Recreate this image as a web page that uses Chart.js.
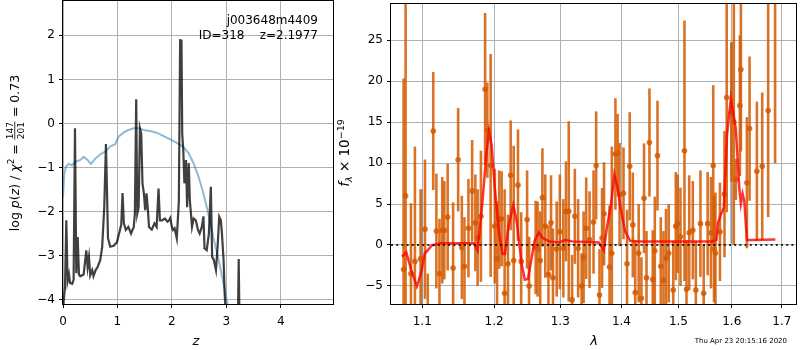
<!DOCTYPE html>
<html>
<head>
<meta charset="utf-8">
<script src="https://cdn.jsdelivr.net/npm/chart.js@4.4.0/dist/chart.umd.min.js"></script>
<style>
  body { margin: 0; background: #fff; }
  #wrap { position: relative; width: 800px; height: 350px; }
  canvas { position: absolute; top: 0; }
</style>
</head>
<body>
<div id="wrap">
  <canvas id="pz" style="left:0px" width="340" height="350"></canvas>
  <canvas id="spec" style="left:330px" width="470" height="350"></canvas>
</div>
<script>
// p(z) panel
const pzZ = [0, 0.011, 0.037, 0.061, 0.085, 0.11, 0.13, 0.17, 0.195, 0.22, 0.244, 0.27, 0.293, 0.318, 0.379,
  0.428, 0.452, 0.477, 0.5, 0.537, 0.56, 0.6, 0.636, 0.685, 0.72, 0.758, 0.789, 0.807, 0.826, 0.868, 0.93,
  0.99, 1.02, 1.07, 1.094, 1.118, 1.155, 1.2, 1.25, 1.3, 1.32, 1.345, 1.364, 1.39, 1.413, 1.437, 1.46, 1.486,
  1.51, 1.535, 1.56, 1.58, 1.63, 1.68, 1.72, 1.755, 1.78, 1.82, 1.87, 1.92, 1.95, 1.97, 2.0, 2.02, 2.05, 2.09,
  2.128, 2.152, 2.177, 2.19, 2.21, 2.23, 2.26, 2.28, 2.31, 2.33, 2.37, 2.4, 2.44, 2.48, 2.51, 2.55, 2.58, 2.6,
  2.64, 2.68, 2.716, 2.74, 2.77, 2.81, 2.84, 2.87, 2.9, 2.92, 2.95, 2.97, 3.0, 3.1, 3.21, 3.228, 3.245, 3.3];
const pzLog = [-4.6, -4.05, -3.71, -2.2, -3.58, -3.43, -3.62, -3.64, -3.55, -0.11, -3.4, -2.58, -3.43, -3.47, -3.43,
  -2.88, -3.26, -3.03, -3.45, -3.33, -3.47, -3.33, -3.26, -3.1, -2.8, -1.9, -0.47, -1.44, -2.6, -2.8, -2.78,
  -2.7, -2.55, -2.3, -1.58, -2.27, -2.42, -2.35, -2.5, -2.35, -2.05, 0.55, -2.05, -1.9, -0.11, -0.23, -1.36, -1.59,
  -1.97, -1.59, -1.97, -2.35, -2.41, -2.27, -2.35, -1.48, -2.2, -2.2, -2.16, -2.23, -2.2, -2.15, -2.35, -2.42, -2.38, -2.61,
  -1.78, 1.89, 1.88, -0.23, -0.61, -1.36, -0.83, -1.9, -0.9, -1.74, -2.35, -2.16, -2.2, -2.42, -2.5, -2.35, -2.11, -2.84,
  -2.88, -2.5, -1.44, -3.03, -3.1, -3.33, -2.8, -2.12, -2.2, -2.5, -3.1, -3.86, -4.6, -6, -4.8, -3.08, -4.8, -6];
const priorZ = [0, 0.024, 0.055, 0.104, 0.165, 0.226, 0.318, 0.38, 0.44, 0.514, 0.593, 0.685, 0.777, 0.87, 0.96,
  1.02, 1.11, 1.2, 1.3, 1.39, 1.48, 1.6, 1.72, 1.85, 1.97, 2.09, 2.21, 2.31, 2.4, 2.49, 2.58, 2.67, 2.76, 2.86,
  2.95, 3.02, 3.07];
const priorLog = [-1.67, -1.14, -0.98, -0.92, -0.95, -0.87, -0.83, -0.76, -0.82, -0.92, -0.8, -0.7, -0.64, -0.52, -0.47,
  -0.3, -0.21, -0.15, -0.11, -0.11, -0.15, -0.17, -0.21, -0.29, -0.36, -0.44, -0.53, -0.68, -0.91, -1.21, -1.59, -2.05, -2.58, -3.1,
  -3.64, -4.09, -4.4];
const zTicks = [0, 1, 2, 3, 4];
const logpTicks = [-4, -3, -2, -1, 0, 1, 2];

// spectrum panel
const specWave = [1.0755, 1.0781, 1.0851, 1.0903, 1.0978, 1.1037, 1.1074, 1.1148, 1.119, 1.1232, 1.127, 1.1298,
  1.1344, 1.1419, 1.1489, 1.154, 1.1577, 1.1633, 1.1685, 1.1731, 1.1763, 1.181, 1.187, 1.1902, 1.195, 1.201,
  1.2043, 1.2074, 1.211, 1.2154, 1.2203, 1.2243, 1.2288, 1.2352, 1.24, 1.2489, 1.2519, 1.2619, 1.2649, 1.2689,
  1.2723, 1.2767, 1.2816, 1.2856, 1.2886, 1.2945, 1.2994, 1.3049, 1.3091, 1.3135, 1.3188, 1.3232, 1.3285, 1.3341,
  1.3373, 1.3415, 1.347, 1.3535, 1.3578, 1.3633, 1.3675, 1.3708, 1.38, 1.3838, 1.3898, 1.3935, 1.3968, 1.4035,
  1.4095, 1.4141, 1.4194, 1.4236, 1.4295, 1.4342, 1.4388, 1.4431, 1.4483, 1.4541, 1.4577, 1.4624, 1.4683, 1.4731,
  1.4776, 1.4824, 1.4906, 1.4952, 1.4988, 1.5037, 1.511, 1.5147, 1.5197, 1.5263, 1.5319, 1.5405, 1.5466, 1.554,
  1.5602, 1.5645, 1.566, 1.5687, 1.5773, 1.586, 1.5902, 1.5994, 1.604, 1.6079, 1.6158, 1.6178, 1.6296, 1.6349,
  1.6494, 1.6601, 1.6721, 1.6862];
const specFlux = [-3, 6.0, -3.5, -2, -1.7, 1.93, -8, 13.9, 1.7, -3.5, 1.8, 1.8,
  3.4, -2.8, 10.4, -0.3, -2.6, 2.05, 6.6, 2.7, 0.9, 3.5, 19.0, 14, 9.7, 2.3,
  -1.7, 3.1, 3.2, -5.9, -2.3, 8.5, -1.9, 7.3, -2.0, 3.1, -5, -0.3, -0.5, -1.9,
  5.8, 2.3, -3.6, 2.7, -4, -0.5, 1.6, -0.4, 4.1, 4.1, -6.7, 3.5, -0.4, -5,
  -1.5, 2.05, 0.65, 2.8, 9.7, -6.1, 0.85, 3.8, -2.7, -1, 11.1, 11.2, 6.15, 6.3,
  -2.3, 9.6, 2.45, -5.8, -1, -6.5, 5.7, -4.0, 12.5, -4.2, -0.7, 10.9, -2.6, -4.3,
  -1.6, -1.0, -5.5, 2.3, 2.6, 1.0, 11.5, -5.4, 1.5, 1.8, -5.5, 2.6, -5.9, 2.6,
  1.5, 9.7, -0.5, -1, 1.6, 6.2, 18.0, 16.2, 15, 8.0, 17.0, 21.4, 7.6, 14.2,
  9.0, 9.6, 16.4, 30];
const specErr = [23.3, 24, 8.6, 14, 8.5, 8.5, 4.5, 7.2, 7, 6.7, 6.5, 6,
  6.5, 8, 6.3, 6.3, 6, 6, 6.2, 5.9, 5.9, 8, 9.3, 5.8, 13.6, 7,
  7, 6, 5.8, 12.7, 6, 6.7, 14, 6.8, 6, 6, 6, 5.7, 5.8, 6,
  6, 6.3, 6, 5.8, 6, 5.8, 7, 6, 6.1, 11, 5.5, 5.8, 6, 4,
  5.6, 6.2, 5.9, 6.3, 6.6, 5.6, 6.1, 6.3, 7.5, 13, 6.8, 4.8, 6.3, 5.6,
  6.6, 6.6, 6.4, 6.3, 6, 5, 6.7, 5.7, 6.6, 6, 6.6, 6.7, 6, 6,
  6, 6, 6, 6.6, 6, 6, 15.9, 6, 7, 6, 6, 6.5, 6, 6.3,
  6.8, 9.8, 6.5, 7.4, 6, 7.7, 14, 8.5, 15, 2.5, 8.6, 10, 8, 8.8,
  8.5, 9, 13, 20];
const greyWave = [1.0995, 1.5994];
const greyFlux = [-2, 12.5];
const greyErr = [8.8, 12.3];
const modelWave = [1.0733, 1.079, 1.0856, 1.0929, 1.0987, 1.1032, 1.1126, 1.1242, 1.1707, 1.1763, 1.1824, 1.1894,
  1.1926, 1.1964, 1.201, 1.2074, 1.2124, 1.2159, 1.2208, 1.2282, 1.2332, 1.2406, 1.2455, 1.2504, 1.2555, 1.2604,
  1.2668, 1.2727, 1.2826, 1.2975, 1.3081, 1.3188, 1.3622, 1.3703, 1.3756, 1.3828, 1.3881, 1.3935, 1.399, 1.406,
  1.4148, 1.4295, 1.4882, 1.549, 1.5612, 1.5705, 1.5736, 1.5797, 1.5847, 1.5908, 1.5982, 1.6079, 1.6146, 1.6178,
  1.6211, 1.6245, 1.6296, 1.6442, 1.6868];
const modelFlux = [-1.41, -0.89, -3.11, -5.04, -3.31, -1.09, -0.08, 0.2, 0.2, -0.69, 4.55, 11.6,
  13.9, 12.2, 6.97, 1.33, -1.09, -1.09, 2.13, 4.87, 2.94, -2.3, -4.23, -4.11, -1.69, 0.52,
  1.52, 0.85, 0.44, 0.31, 0.6, 0.44, 0.31, -0.69, 2.13, 5.15, 8.59, 6.97, 4.35, 1.73,
  0.52, 0.44, 0.44, 0.44, 0.44, 0.6, 2.73, 3.82, 4.55, 13.4, 17.85, 14.2, 6.97, 5.03,
  6.24, 5.36, 0.6, 0.6, 0.68];
const lamTicks = [1.1, 1.2, 1.3, 1.4, 1.5, 1.6, 1.7];
const fluxTicks = [-5, 0, 5, 10, 15, 20, 25];
const lamMin = 1.0592, lamMax = 1.7294;

const FONT = '"DejaVu Sans"';
const minus = v => String(v).replace('-', '\u2212');
const setTicks = vals => scale => { scale.ticks = vals.map(v => ({ value: v })); };
const pts = (xs, ys) => xs.map((x, i) => ({ x: x, y: ys[i] }));
// fixed axis box sizes, no automatic label padding
const fixX = h => s => { s.height = h; s.paddingLeft = 0; s.paddingRight = 0; };
const fixY = w => s => { s.width = w; s.paddingTop = 0; s.paddingBottom = 0; };

function axisOpts(extra, padding, callback) {
  return Object.assign({
    ticks: { color: '#000', font: { family: FONT, size: 12 }, autoSkip: false, maxRotation: 0,
      padding: padding, callback: callback },
    grid: { color: '#b0b0b0', lineWidth: 1, tickLength: 4, tickColor: '#000', tickWidth: 1 },
    border: { display: false }
  }, extra);
}

// draws text runs (sub/superscripts, fractions) centered at x,y
function drawRuns(ctx, runs, x, y, rotate) {
  ctx.save();
  ctx.translate(x, y);
  if (rotate) ctx.rotate(-Math.PI / 2);
  ctx.fillStyle = '#000';
  ctx.textBaseline = 'alphabetic';
  const fontOf = r => (r.it ? 'italic ' : '') + r.size + 'px ' + FONT;
  const widths = runs.map(r => {
    ctx.font = fontOf(r);
    if (r.frac) return Math.max(...r.frac.map(t => ctx.measureText(t).width)) + 2;
    return ctx.measureText(r.t).width;
  });
  let cx = -widths.reduce((a, b) => a + b, 0) / 2;
  runs.forEach((r, i) => {
    ctx.font = fontOf(r);
    const w = widths[i];
    if (r.frac) {
      ctx.textAlign = 'center';
      ctx.fillText(r.frac[0], cx + w / 2, -6);
      ctx.fillText(r.frac[1], cx + w / 2, 4.5);
      ctx.fillRect(cx + 0.5, -4.6, w - 1, 0.8);
    } else {
      ctx.textAlign = 'left';
      ctx.fillText(r.t, cx, r.dy || 0);
    }
    cx += w;
  });
  ctx.restore();
}

function frame(chart) {
  const { ctx, chartArea: a } = chart;
  ctx.save();
  ctx.strokeStyle = '#000';
  ctx.lineWidth = 1;
  ctx.strokeRect(Math.round(a.left) - 0.5, Math.round(a.top) - 0.5,
    Math.round(a.right) - Math.round(a.left) + 1, Math.round(a.bottom) - Math.round(a.top) + 1);
  ctx.restore();
}

const pzDecor = {
  id: 'pzDecor',
  afterDraw(chart) {
    frame(chart);
    const ctx = chart.ctx;
    ctx.save();
    ctx.fillStyle = '#000';
    ctx.font = '12px ' + FONT;
    ctx.textAlign = 'right';
    ctx.fillText('j003648m4409', 318, 24);
    ctx.fillText('ID=318    z=2.1977', 318, 39);
    ctx.restore();
    drawRuns(ctx, [{ t: 'z', size: 13, it: true }], 196, 345, false);
    drawRuns(ctx, [
      { t: 'log ', size: 12.5 }, { t: 'p', size: 12.5, it: true }, { t: '(', size: 12.5 },
      { t: 'z', size: 12.5, it: true }, { t: ') / ', size: 12.5 }, { t: '\u03c7', size: 12.5, it: true },
      { t: '2', size: 9, dy: -5 }, { t: ' = ', size: 12.5 }, { frac: ['147', '201'], size: 9 },
      { t: ' = 0.73', size: 12.5 }
    ], 19, 153, true);
  }
};

new Chart(document.getElementById('pz'), {
  type: 'line',
  data: {
    datasets: [
      { data: pts(pzZ, pzLog), borderColor: 'rgba(0,0,0,0.75)', borderWidth: 2.2, order: 0 },
      { data: pts(priorZ, priorLog), borderColor: 'rgba(31,119,180,0.5)', borderWidth: 2, order: 1 }
    ]
  },
  options: {
    responsive: false, animation: false, events: [],
    layout: { padding: { top: 1, right: 7, left: 0, bottom: 0 } },
    plugins: { legend: { display: false }, tooltip: { enabled: false } },
    elements: { point: { radius: 0 }, line: { tension: 0 } },
    scales: {
      x: axisOpts({ type: 'linear', min: 0, max: 4.96, afterBuildTicks: setTicks(zTicks),
        afterFit: fixX(46) }, 7, minus),
      y: axisOpts({ min: -4.1, max: 2.78, afterBuildTicks: setTicks(logpTicks),
        afterFit: fixY(63) }, 4, minus)
    }
  },
  plugins: [pzDecor]
});

const ORANGE = 'rgba(212,90,0,0.85)';
const errorBars = {
  id: 'errorBars',
  beforeDatasetsDraw(chart) {
    const { ctx, chartArea: a, scales: { x, y } } = chart;
    ctx.save();
    ctx.beginPath();
    ctx.rect(a.left, a.top, a.width, a.height);
    ctx.clip();
    ctx.lineWidth = 2.6;
    const bars = (w, f, e, color) => {
      ctx.strokeStyle = color;
      w.forEach((lam, i) => {
        const px = x.getPixelForValue(lam);
        ctx.beginPath();
        ctx.moveTo(px, y.getPixelForValue(f[i] - e[i]));
        ctx.lineTo(px, y.getPixelForValue(f[i] + e[i]));
        ctx.stroke();
      });
    };
    bars(greyWave, greyFlux, greyErr, 'rgba(128,128,128,0.6)');
    bars(specWave, specFlux, specErr, ORANGE);
    ctx.restore();
  },
  afterDraw(chart) {
    frame(chart);
    const ctx = chart.ctx;
    drawRuns(ctx, [{ t: '\u03bb', size: 13, it: true }], 264, 345, false);
    drawRuns(ctx, [
      { t: 'f', size: 13.5, it: true }, { t: '\u03bb', size: 9.5, it: true, dy: 3 },
      { t: ' \u00d7 10', size: 13.5 }, { t: '\u221219', size: 9.5, dy: -5.5 }
    ], 19, 153, true);
    ctx.save();
    ctx.fillStyle = '#000';
    ctx.font = '7px ' + FONT;
    ctx.textAlign = 'right';
    ctx.fillText('Thu Apr 23 20:15:16 2020', 457, 343);
    ctx.restore();
  }
};

new Chart(document.getElementById('spec'), {
  type: 'line',
  data: {
    datasets: [
      { data: [{ x: lamMin, y: 0 }, { x: lamMax, y: 0 }], borderColor: 'rgba(0,0,0,0.8)', borderWidth: 1.8,
        borderDash: [2, 3.2], order: 0 },
      { data: pts(modelWave, modelFlux), borderColor: 'rgba(255,0,0,0.8)', borderWidth: 2.5, order: 1 },
      { data: pts(specWave, specFlux), showLine: false, pointRadius: 2.8, pointBackgroundColor: ORANGE,
        pointBorderWidth: 0, order: 2 }
    ]
  },
  options: {
    responsive: false, animation: false, events: [],
    layout: { padding: { top: 1, right: 1, left: 0, bottom: 0 } },
    plugins: { legend: { display: false }, tooltip: { enabled: false } },
    elements: { point: { radius: 0 }, line: { tension: 0 } },
    scales: {
      x: axisOpts({ type: 'logarithmic', min: lamMin, max: lamMax, afterBuildTicks: setTicks(lamTicks),
        afterFit: fixX(46) }, 7, v => Number(v).toFixed(1)),
      y: axisOpts({ min: -7.2, max: 29.4, afterBuildTicks: setTicks(fluxTicks),
        afterFit: fixY(61) }, 4, minus)
    }
  },
  plugins: [errorBars]
});
</script>
</body>
</html>
